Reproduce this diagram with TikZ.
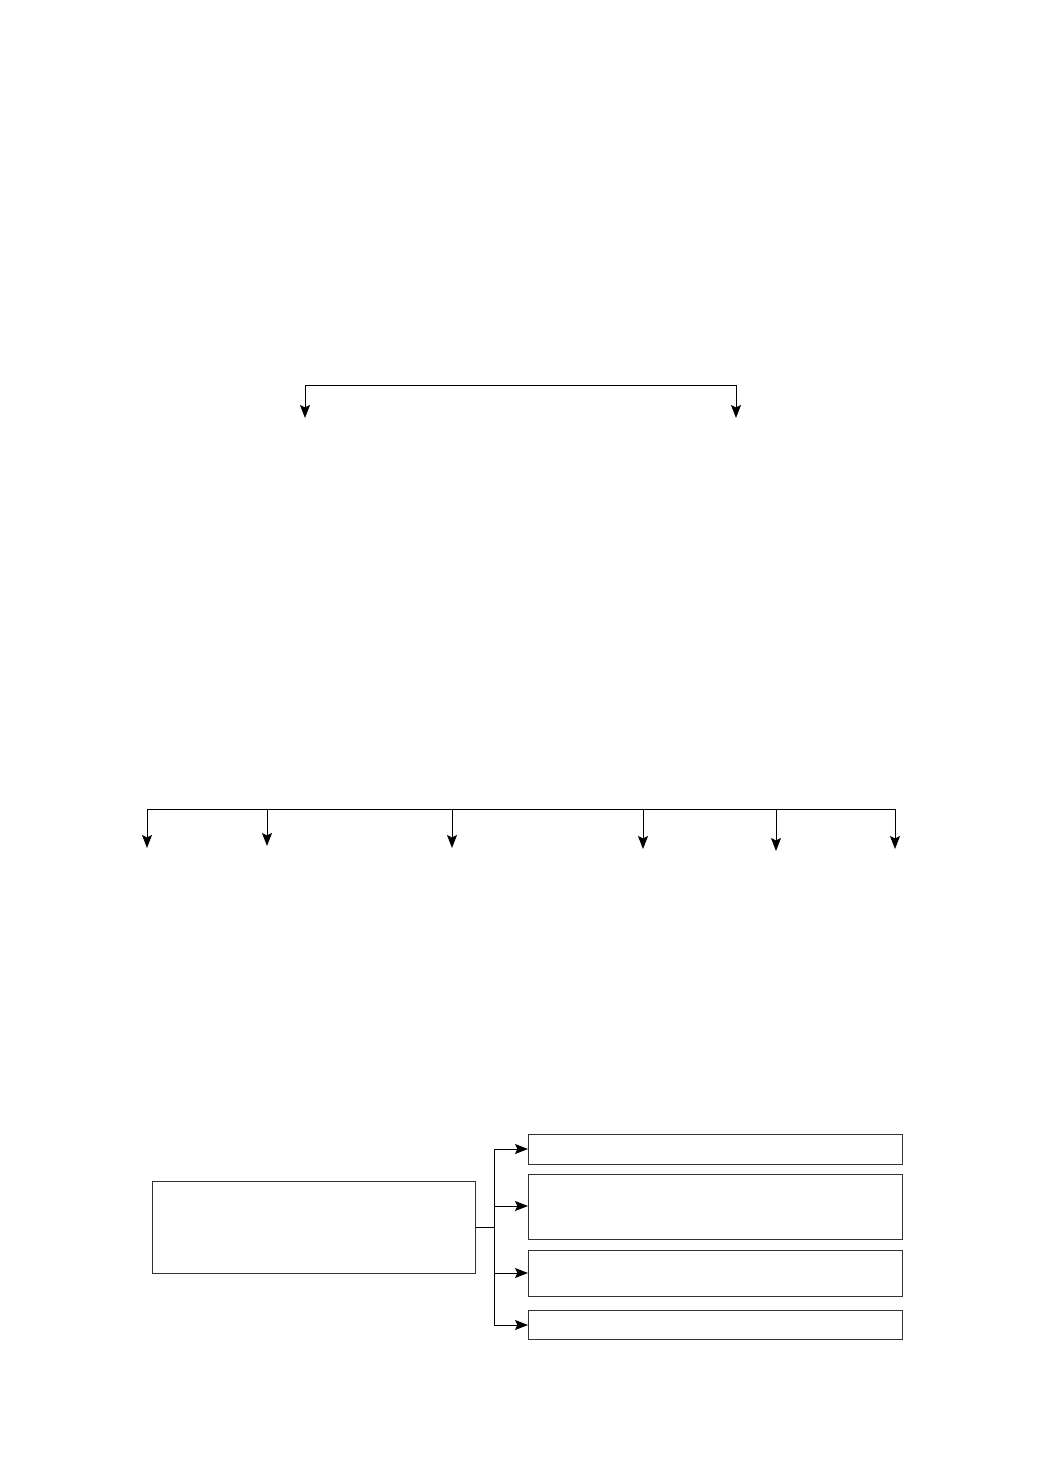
\documentclass[tikz,border=0pt]{standalone}
\usetikzlibrary{positioning}
\usetikzlibrary{arrows.meta}
\usetikzlibrary{calc}
\tikzstyle{box}=[rectangle,draw=black!80,line width=1pt,inner sep=0pt,anchor=north west]
\tikzstyle{edge} = [draw,line width=1pt,-{Stealth[length=13pt,width=10pt,inset=2.5pt]}]
\tikzstyle{bar} = [draw,line width=1pt]

\begin{document}
\begin{tikzpicture}[x=1pt,y=-1pt]

  \useasboundingbox (0,0) rectangle (1041,1472);

  % top split
  \coordinate (topL) at (305,385);
  \coordinate (topR) at (736,385);
  \draw[bar] (topL) -- (topR);
  \foreach \name/\x in {t1/305, t2/736}
         \coordinate (\name) at (\x,418);
  \draw[edge] (topL) -- (t1);
  \draw[edge] (topR) -- (t2);

  % middle split
  \coordinate (midL) at (147,809);
  \coordinate (midR) at (895,809);
  \draw[bar] (midL) -- (midR);
  \foreach \name/\x/\y in {m1/147/848, m2/267/846, m3/452/848, m4/643/849, m5/776/851, m6/895/849}
  {
         \coordinate (\name) at (\x,\y);
         \draw[edge] (\x,809) -- (\name);
  }

  % bottom boxes
  \node[box, minimum width=323pt, minimum height=92pt] (main) at (152,1181) {};
  \foreach \name/\y/\h in {b1/1134/30, b2/1174/65, b3/1250/46, b4/1310/29}
          \node[box, minimum width=374pt, minimum height=\h pt] (\name) at (528,\y) {};

  \coordinate (fork) at ($(main.east)+(18,0)$);
  \draw[bar] (main.east) -- (fork);
  \draw[bar] (fork |- b1.west) -- (fork |- 0,1325);
  \foreach \name/\y in {b1/1149, b2/1206, b3/1273, b4/1325}
         \draw[edge] (fork |- 0,\y) -- (\name.west |- 0,\y);

\end{tikzpicture}
\end{document}
